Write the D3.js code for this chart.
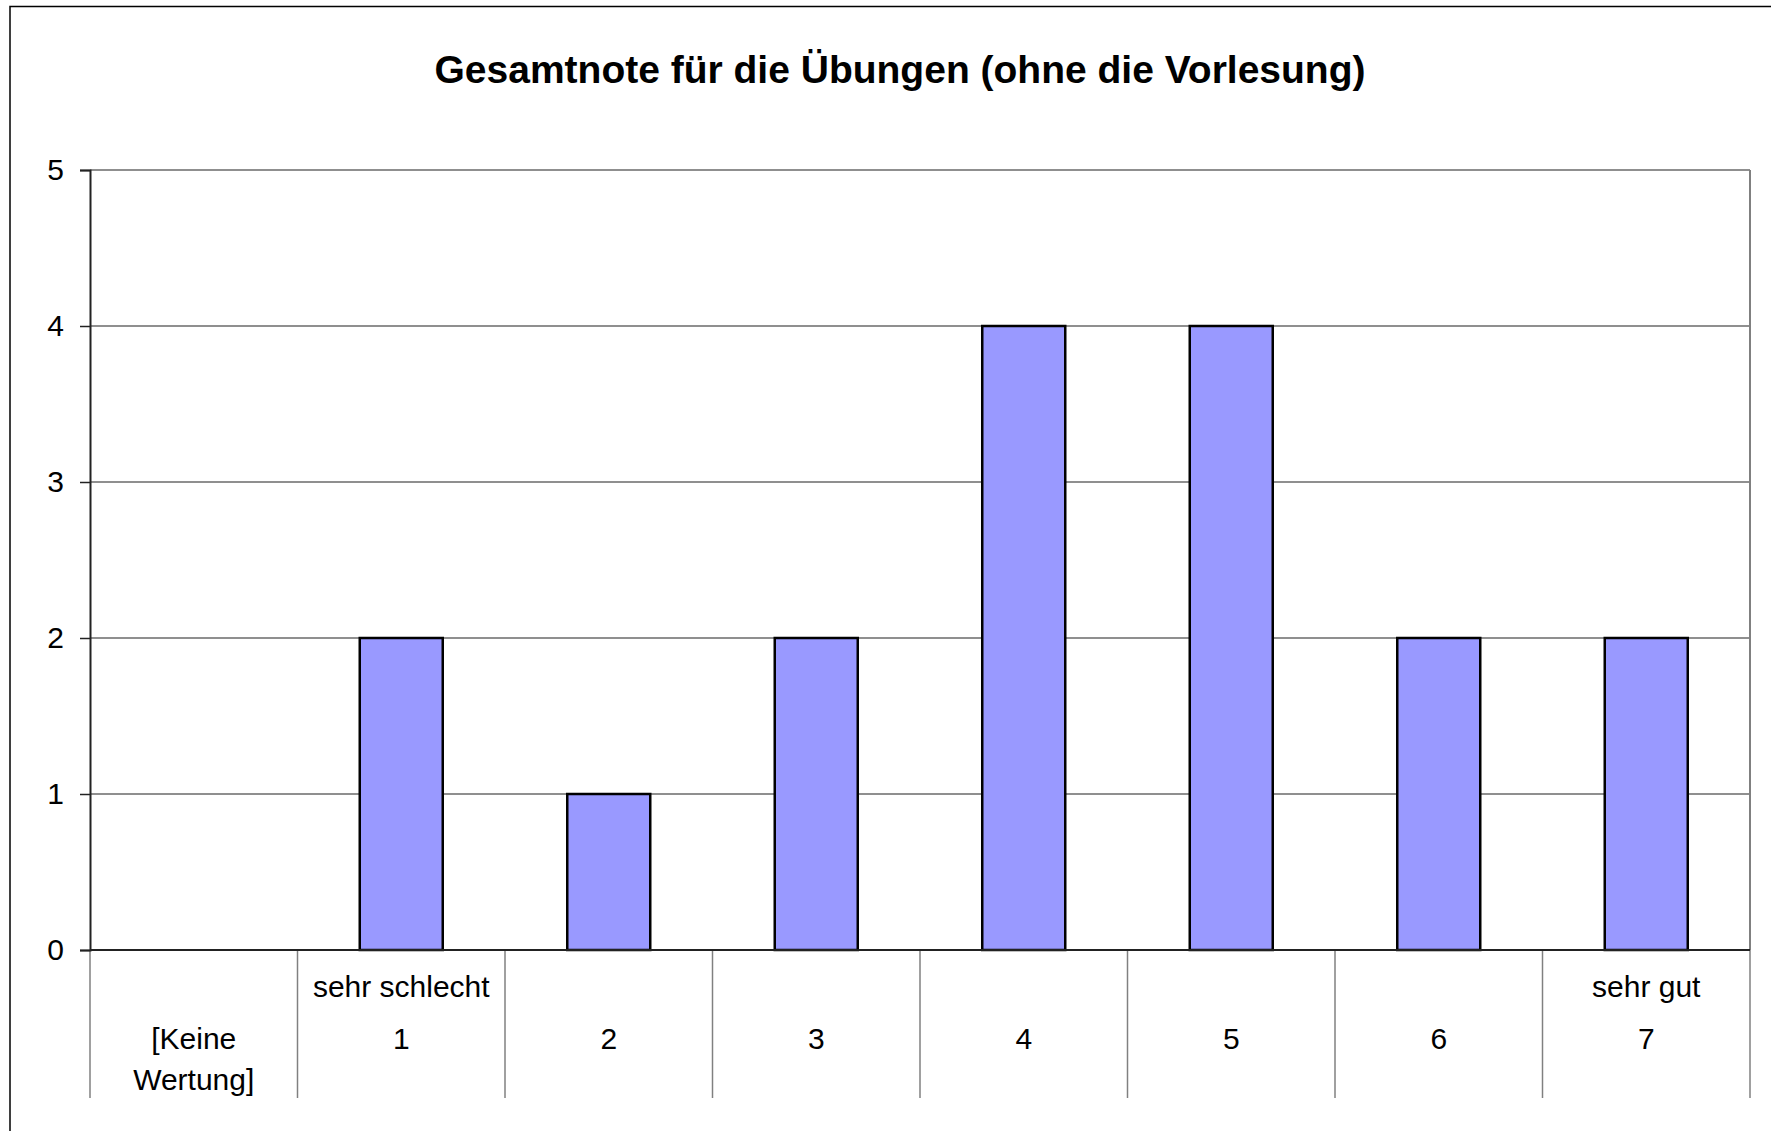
<!DOCTYPE html>
<html>
<head>
<meta charset="utf-8">
<script src="https://cdn.jsdelivr.net/npm/d3@7"></script>
<style>
  body { margin: 0; background: #fff; }
  svg { display: block; font-family: "Liberation Sans", Arial, sans-serif; }
</style>
</head>
<body>
<svg id="chart" width="1771" height="1131"></svg>
<script>
'use strict';

// chart data
var title = 'Gesamtnote für die Übungen (ohne die Vorlesung)';
var categories = ['[Keine Wertung]', '1', '2', '3', '4', '5', '6', '7'];
var topLabels = ['', 'sehr schlecht', '', '', '', '', '', 'sehr gut'];
var counts = [0, 2, 1, 2, 4, 4, 2, 2];
var yTicks = [0, 1, 2, 3, 4, 5];

var width = 1771, height = 1131;
var plot = { left: 90, right: 1750, top: 170, bottom: 950 };

var svg = d3.select('#chart');

// outer chart frame (runs off the right and bottom edge)
svg.append('rect')
  .attr('x', 10).attr('y', 6.5)
  .attr('width', width + 20).attr('height', height + 20)
  .attr('fill', '#fff')
  .attr('stroke', '#000')
  .attr('stroke-width', 1.5);

svg.append('text')
  .attr('x', 900).attr('y', 83)
  .attr('text-anchor', 'middle')
  .attr('font-weight', 'bold')
  .attr('font-size', 39)
  .text(title);

var x = d3.scaleBand()
  .domain(categories)
  .range([plot.left, plot.right])
  .paddingInner(0.6)
  .paddingOuter(0.3);

var step = x.step();

var y = d3.scaleLinear()
  .domain([0, 5])
  .range([plot.bottom, plot.top]);

// horizontal gridlines
svg.append('g')
  .selectAll('line')
  .data(yTicks.filter(function(d) { return d > 0; }))
  .join('line')
  .attr('x1', plot.left).attr('x2', plot.right)
  .attr('y1', function(d) { return y(d); })
  .attr('y2', function(d) { return y(d); })
  .attr('stroke', '#6a6a6a')
  .attr('stroke-width', 1.5);

// right edge of plot area
svg.append('line')
  .attr('x1', plot.right).attr('x2', plot.right)
  .attr('y1', plot.top).attr('y2', plot.bottom)
  .attr('stroke', '#808080')
  .attr('stroke-width', 2);

// category separators below the axis
var seps = categories.map(function(c) { return x(c) - step * 0.3; }).concat([plot.right]);
svg.append('g')
  .selectAll('line')
  .data(seps)
  .join('line')
  .attr('x1', function(d) { return d; })
  .attr('x2', function(d) { return d; })
  .attr('y1', plot.bottom).attr('y2', 1098)
  .attr('stroke', '#808080')
  .attr('stroke-width', 1.5);

// bars
svg.append('g')
  .selectAll('rect')
  .data(counts.map(function(v, i) { return { cat: categories[i], value: v }; })
    .filter(function(d) { return d.value > 0; }))
  .join('rect')
  .attr('x', function(d) { return x(d.cat); })
  .attr('y', function(d) { return y(d.value); })
  .attr('width', x.bandwidth())
  .attr('height', function(d) { return y(0) - y(d.value); })
  .attr('fill', '#9999ff')
  .attr('stroke', '#000')
  .attr('stroke-width', 2.5);

// y axis
var yAxis = svg.append('g')
  .attr('transform', 'translate(' + plot.left + ',0)')
  .call(d3.axisLeft(y).tickValues(yTicks).tickSize(10).tickPadding(16).tickFormat(d3.format('d')));
yAxis.select('.domain').attr('stroke', '#222').attr('stroke-width', 2);
yAxis.selectAll('.tick line').attr('stroke', '#222').attr('stroke-width', 1.5);
yAxis.selectAll('.tick text')
  .attr('font-size', 30)
  .attr('font-family', '"Liberation Sans", Arial, sans-serif')
  .attr('fill', '#000');

// zero line
svg.append('line')
  .attr('x1', plot.left).attr('x2', plot.right)
  .attr('y1', y(0)).attr('y2', y(0))
  .attr('stroke', '#222')
  .attr('stroke-width', 2);

// category labels
var labels = svg.append('g')
  .attr('font-size', 30)
  .attr('text-anchor', 'middle')
  .attr('fill', '#000');

categories.forEach(function(c, i) {
  var cx = x(c) + x.bandwidth() / 2;
  if (topLabels[i]) {
    labels.append('text').attr('x', cx).attr('y', 997).text(topLabels[i]);
  }
  var words = c.split(' ');
  labels.append('text').attr('x', cx).attr('y', 1049).text(words[0]);
  if (words[1]) {
    labels.append('text').attr('x', cx).attr('y', 1090).text(words[1]);
  }
});
</script>
</body>
</html>
